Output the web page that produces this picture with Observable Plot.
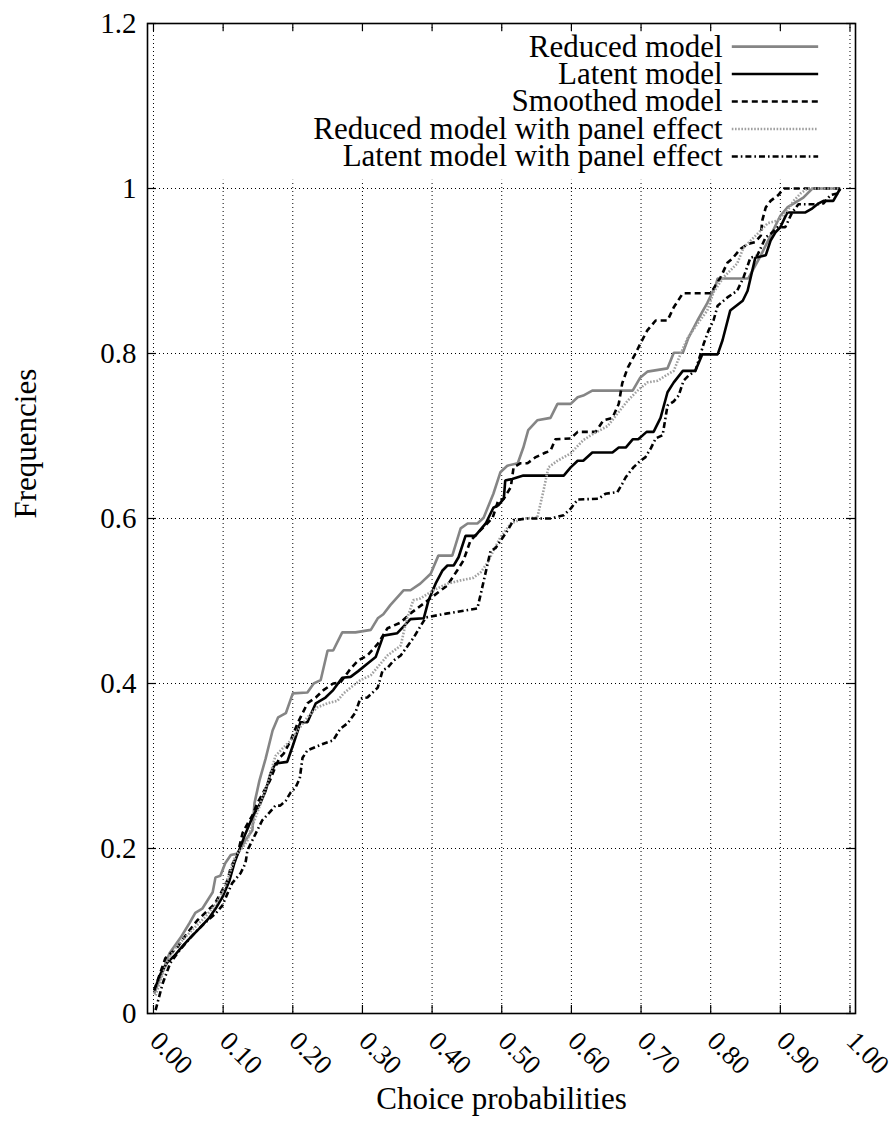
<!DOCTYPE html>
<html>
<head>
<meta charset="utf-8">
<script src="https://cdn.jsdelivr.net/npm/d3@7"></script>
<script src="https://cdn.jsdelivr.net/npm/@observablehq/plot@0.6"></script>
<style>
  html, body { margin: 0; padding: 0; background: #fff; }
  #chart { width: 895px; height: 1122px; }
</style>
</head>
<body>
<div id="chart"></div>
<script>
// ---------- data ----------
const xTicks = [0, 0.1, 0.2, 0.3, 0.4, 0.5, 0.6, 0.7, 0.8, 0.9, 1.0];
const xTickLabels = ["0.00", "0.10", "0.20", "0.30", "0.40", "0.50", "0.60", "0.70", "0.80", "0.90", "1.00"];
const yTicks = [0, 0.2, 0.4, 0.6, 0.8, 1.0, 1.2];
const yTickLabels = ["0", "0.2", "0.4", "0.6", "0.8", "1", "1.2"];
const seriesNames = [
  "Reduced model",
  "Latent model",
  "Smoothed model",
  "Reduced model with panel effect",
  "Latent model with panel effect"
];
const xTitle = "Choice probabilities";
const yTitle = "Frequencies";

const reducedModel = [
  [0.001,0.024],[0.023,0.073],[0.039,0.092],[0.052,0.110],[0.060,0.122],[0.070,0.127],[0.085,0.147],
  [0.089,0.165],[0.096,0.167],[0.103,0.182],[0.111,0.192],[0.121,0.194],[0.132,0.210],[0.142,0.222],
  [0.145,0.255],[0.152,0.282],[0.161,0.309],[0.171,0.343],[0.179,0.359],[0.190,0.364],[0.200,0.388],
  [0.221,0.389],[0.230,0.400],[0.240,0.404],[0.250,0.440],[0.258,0.440],[0.271,0.462],[0.290,0.462],
  [0.312,0.465],[0.322,0.479],[0.330,0.484],[0.340,0.495],[0.359,0.513],[0.369,0.513],[0.383,0.521],
  [0.398,0.533],[0.409,0.555],[0.429,0.555],[0.441,0.588],[0.451,0.594],[0.465,0.594],[0.474,0.601],
  [0.488,0.630],[0.498,0.656],[0.508,0.664],[0.523,0.667],[0.531,0.686],[0.538,0.707],[0.551,0.719],
  [0.570,0.722],[0.580,0.739],[0.599,0.739],[0.609,0.747],[0.617,0.749],[0.630,0.755],[0.688,0.755],
  [0.699,0.771],[0.709,0.778],[0.738,0.782],[0.747,0.801],[0.760,0.801],[0.768,0.819],[0.781,0.840],
  [0.795,0.861],[0.807,0.882],[0.810,0.891],[0.854,0.891],[0.872,0.919],[0.886,0.943],[0.900,0.967],
  [0.910,0.977],[0.933,0.989],[0.946,1.000],[0.986,1.000]
];

const latentModel = [
  [0.001,0.028],[0.010,0.048],[0.020,0.062],[0.030,0.070],[0.042,0.082],[0.053,0.092],[0.067,0.104],
  [0.080,0.116],[0.089,0.127],[0.099,0.141],[0.109,0.161],[0.116,0.182],[0.123,0.198],[0.132,0.218],
  [0.142,0.238],[0.154,0.256],[0.161,0.270],[0.168,0.291],[0.175,0.303],[0.192,0.305],[0.201,0.327],
  [0.211,0.353],[0.221,0.353],[0.233,0.376],[0.247,0.383],[0.258,0.392],[0.271,0.407],[0.283,0.408],
  [0.294,0.415],[0.307,0.424],[0.319,0.432],[0.330,0.458],[0.350,0.461],[0.369,0.478],[0.388,0.479],
  [0.395,0.501],[0.405,0.521],[0.415,0.537],[0.422,0.543],[0.431,0.543],[0.438,0.553],[0.448,0.579],
  [0.462,0.579],[0.477,0.594],[0.488,0.613],[0.495,0.616],[0.503,0.624],[0.505,0.646],[0.515,0.648],
  [0.531,0.652],[0.589,0.652],[0.599,0.662],[0.609,0.670],[0.617,0.670],[0.630,0.680],[0.659,0.680],
  [0.668,0.686],[0.678,0.686],[0.688,0.696],[0.696,0.696],[0.708,0.705],[0.718,0.705],[0.728,0.722],
  [0.738,0.753],[0.747,0.765],[0.760,0.779],[0.778,0.779],[0.788,0.799],[0.810,0.799],[0.817,0.816],
  [0.828,0.852],[0.846,0.864],[0.853,0.876],[0.864,0.916],[0.879,0.919],[0.886,0.937],[0.893,0.947],
  [0.900,0.953],[0.910,0.971],[0.936,0.971],[0.946,0.976],[0.955,0.982],[0.962,0.985],[0.976,0.985],
  [0.986,1.000]
];

const smoothedModel = [
  [0.001,0.028],[0.017,0.067],[0.034,0.080],[0.049,0.098],[0.063,0.113],[0.078,0.125],[0.088,0.133],
  [0.096,0.145],[0.106,0.161],[0.111,0.177],[0.121,0.194],[0.128,0.219],[0.135,0.230],[0.142,0.240],
  [0.149,0.255],[0.159,0.270],[0.167,0.282],[0.174,0.297],[0.181,0.310],[0.187,0.315],[0.197,0.331],
  [0.207,0.352],[0.221,0.376],[0.233,0.383],[0.244,0.392],[0.258,0.400],[0.268,0.401],[0.283,0.418],
  [0.294,0.428],[0.307,0.434],[0.322,0.448],[0.336,0.467],[0.355,0.474],[0.369,0.485],[0.388,0.497],
  [0.408,0.510],[0.422,0.519],[0.436,0.537],[0.445,0.549],[0.455,0.573],[0.465,0.582],[0.477,0.592],
  [0.487,0.601],[0.495,0.622],[0.503,0.624],[0.513,0.638],[0.517,0.662],[0.527,0.667],[0.537,0.667],
  [0.548,0.674],[0.563,0.680],[0.570,0.682],[0.577,0.696],[0.599,0.697],[0.609,0.705],[0.635,0.705],
  [0.646,0.719],[0.659,0.722],[0.668,0.739],[0.673,0.764],[0.681,0.783],[0.692,0.800],[0.699,0.812],
  [0.709,0.828],[0.721,0.840],[0.738,0.840],[0.747,0.856],[0.760,0.873],[0.800,0.873],[0.814,0.892],
  [0.824,0.910],[0.831,0.915],[0.843,0.927],[0.854,0.933],[0.864,0.935],[0.872,0.943],[0.874,0.961],
  [0.879,0.977],[0.886,0.985],[0.897,0.992],[0.905,1.000],[0.986,1.000]
];

const reducedPanelModel = [
  [0.003,0.022],[0.010,0.040],[0.020,0.064],[0.032,0.080],[0.045,0.092],[0.059,0.104],[0.073,0.116],
  [0.088,0.131],[0.099,0.147],[0.106,0.161],[0.113,0.179],[0.118,0.192],[0.128,0.201],[0.135,0.210],
  [0.139,0.222],[0.145,0.234],[0.154,0.255],[0.161,0.273],[0.168,0.291],[0.175,0.312],[0.185,0.321],
  [0.197,0.331],[0.207,0.343],[0.221,0.359],[0.235,0.371],[0.250,0.376],[0.264,0.379],[0.273,0.388],
  [0.283,0.395],[0.297,0.404],[0.312,0.410],[0.326,0.424],[0.336,0.434],[0.355,0.446],[0.363,0.476],
  [0.373,0.501],[0.383,0.503],[0.402,0.513],[0.422,0.521],[0.441,0.525],[0.459,0.528],[0.470,0.535],
  [0.480,0.547],[0.488,0.561],[0.498,0.577],[0.513,0.594],[0.531,0.600],[0.551,0.601],[0.560,0.634],
  [0.567,0.662],[0.580,0.670],[0.599,0.679],[0.617,0.695],[0.632,0.703],[0.652,0.712],[0.666,0.727],
  [0.681,0.743],[0.695,0.755],[0.709,0.765],[0.724,0.767],[0.735,0.773],[0.747,0.779],[0.757,0.800],
  [0.767,0.819],[0.781,0.836],[0.795,0.852],[0.804,0.874],[0.818,0.892],[0.838,0.909],[0.847,0.928],
  [0.867,0.945],[0.882,0.958],[0.896,0.961],[0.910,0.973],[0.919,0.985],[0.929,0.994],[0.939,1.000],
  [0.986,1.000]
];

const latentPanelModel = [
  [0.003,0.004],[0.013,0.036],[0.024,0.061],[0.037,0.076],[0.049,0.088],[0.063,0.101],[0.078,0.113],
  [0.089,0.121],[0.099,0.131],[0.106,0.145],[0.113,0.158],[0.125,0.170],[0.132,0.182],[0.135,0.198],
  [0.142,0.210],[0.149,0.222],[0.156,0.234],[0.167,0.244],[0.175,0.252],[0.182,0.252],[0.190,0.258],
  [0.197,0.268],[0.204,0.274],[0.210,0.285],[0.214,0.310],[0.221,0.319],[0.244,0.327],[0.258,0.331],
  [0.268,0.345],[0.279,0.352],[0.290,0.365],[0.297,0.382],[0.307,0.383],[0.322,0.395],[0.329,0.416],
  [0.336,0.419],[0.345,0.428],[0.355,0.434],[0.373,0.455],[0.391,0.480],[0.422,0.485],[0.465,0.491],
  [0.470,0.509],[0.484,0.561],[0.491,0.564],[0.508,0.585],[0.517,0.598],[0.537,0.600],[0.570,0.600],
  [0.589,0.604],[0.599,0.612],[0.609,0.623],[0.639,0.624],[0.649,0.630],[0.666,0.632],[0.673,0.642],
  [0.678,0.650],[0.689,0.662],[0.699,0.670],[0.706,0.674],[0.714,0.685],[0.721,0.697],[0.731,0.701],
  [0.738,0.737],[0.747,0.742],[0.754,0.749],[0.761,0.767],[0.768,0.773],[0.778,0.779],[0.785,0.798],
  [0.790,0.812],[0.797,0.828],[0.804,0.840],[0.810,0.858],[0.824,0.868],[0.838,0.876],[0.847,0.892],
  [0.857,0.916],[0.867,0.919],[0.879,0.941],[0.886,0.945],[0.896,0.953],[0.907,0.953],[0.917,0.971],
  [0.926,0.981],[0.953,0.981],[0.962,0.982],[0.972,0.992],[0.982,0.994],[0.986,1.000]
];

const seriesData = [reducedModel, latentModel, smoothedModel, reducedPanelModel, latentPanelModel];

// ---------- styles ----------
const seriesStyles = [
  {stroke: "#858585", dash: null, width: 2.6},
  {stroke: "#000000", dash: null, width: 2.6},
  {stroke: "#000000", dash: "6,4", width: 2.6},
  {stroke: "#a0a0a0", dash: "1.6,1.6", width: 2.6},
  {stroke: "#000000", dash: "6,3,1.6,3", width: 2.6}
];

const font = "'Liberation Serif', 'Times New Roman', serif";

const marks = [];
// grid
marks.push(Plot.gridX(xTicks, {stroke: "#000", strokeOpacity: 1, strokeWidth: 1, strokeDasharray: "1,3"}));
marks.push(Plot.gridY(yTicks.slice(1, -1), {stroke: "#000", strokeOpacity: 1, strokeWidth: 1, strokeDasharray: "1,3"}));

// curves
seriesData.forEach((data, i) => {
  const st = seriesStyles[i];
  marks.push(Plot.line(data, {
    x: d => d[0], y: d => d[1],
    stroke: st.stroke, strokeWidth: st.width,
    strokeDasharray: st.dash, strokeLinejoin: "miter", strokeLinecap: "butt"
  }));
});

// opaque key box
marks.push(Plot.rect([0], {x1: 0.01, x2: 0.99, y1: 1.01, y2: 1.19, fill: "white"}));

// key entries
seriesNames.forEach((name, i) => {
  const st = seriesStyles[i];
  const ly = 1.172 - i * 0.0333;
  marks.push(Plot.text([name], {x: 0.817, y: ly, text: d => d, textAnchor: "end", fill: "black", fontSize: 31}));
  marks.push(Plot.ruleY([ly], {x1: 0.831, x2: 0.955, stroke: st.stroke, strokeWidth: st.width, strokeDasharray: st.dash}));
});

// tick marks (inward, mirrored)
marks.push(Plot.tickX(xTicks, {x: d => d, insetTop: 982, stroke: "black", strokeWidth: 1.2}));
marks.push(Plot.tickX(xTicks, {x: d => d, insetBottom: 982, stroke: "black", strokeWidth: 1.2}));
marks.push(Plot.tickY(yTicks, {y: d => d, insetRight: 699, stroke: "black", strokeWidth: 1.2}));
marks.push(Plot.tickY(yTicks, {y: d => d, insetLeft: 699, stroke: "black", strokeWidth: 1.2}));

// frame
marks.push(Plot.frame({stroke: "black", strokeWidth: 1.6}));

// tick labels
marks.push(Plot.text(xTicks, {
  x: d => d, text: (d, i) => xTickLabels[i],
  frameAnchor: "bottom", rotate: 45, textAnchor: "start", lineAnchor: "bottom",
  dx: -5, dy: 29, fill: "black", fontSize: 27
}));
marks.push(Plot.text(yTicks, {
  y: d => d, text: (d, i) => yTickLabels[i],
  frameAnchor: "left", textAnchor: "end", dx: -11, fill: "black", fontSize: 29
}));

// axis titles
marks.push(Plot.text([xTitle], {text: d => d, frameAnchor: "bottom", dy: 95, fill: "black", fontSize: 31}));
marks.push(Plot.text([yTitle], {text: d => d, frameAnchor: "left", rotate: -90, dx: -121, fill: "black", fontSize: 31}));

const chart = Plot.plot({
  width: 895,
  height: 1122,
  marginLeft: 147,
  marginRight: 40,
  marginTop: 23,
  marginBottom: 109,
  x: {domain: [-0.0086, 1.0079], axis: null},
  y: {domain: [0, 1.2], axis: null},
  style: {fontFamily: font, fontSize: "29px", background: "white", color: "black", overflow: "visible"},
  marks
});
document.getElementById("chart").appendChild(chart);
</script>
</body>
</html>
